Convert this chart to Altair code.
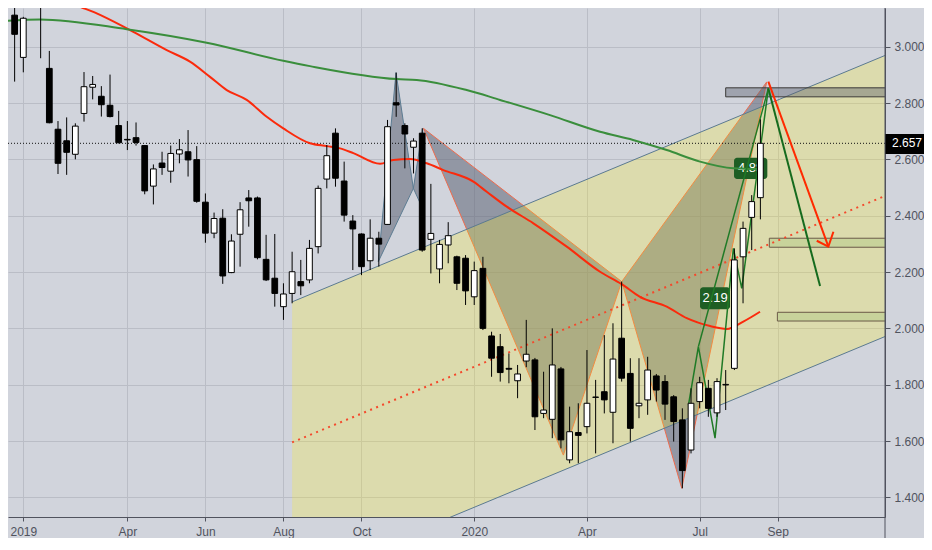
import altair as alt
import pandas as pd

# ---------------- data ----------------
# weekly candles, index 0 = week of 2018-12-31
OPEN = [3.112, 2.962, 3.200, 3.260, 2.923, 2.707, 2.666, 2.618, 2.763, 2.856,
        2.824, 2.792, 2.720, 2.671, 2.677, 2.649, 2.505, 2.587, 2.558, 2.619,
        2.627, 2.599, 2.448, 2.338, 2.391, 2.198, 2.334, 2.463, 2.463, 2.245,
        2.178, 2.077, 2.124, 2.166, 2.172, 2.290, 2.530, 2.693, 2.523, 2.381,
        2.335, 2.240, 2.320, 2.369, 2.801, 2.720, 2.643, 2.693, 2.316, 2.211,
        2.296, 2.254, 2.249, 2.112, 2.213, 1.973, 1.935, 1.858, 1.814, 1.884,
        1.888, 1.698, 1.677, 1.856, 1.533, 1.630, 1.651, 1.756, 1.775, 1.702,
        1.965, 1.840, 1.725, 1.746, 1.831, 1.811, 1.757, 1.675, 1.568, 1.740,
        1.787, 1.700, 1.799, 1.858, 2.254, 2.394, 2.464]
HIGH = [3.142, 3.106, 3.300, 3.320, 2.985, 2.736, 2.749, 2.728, 2.910, 2.896,
        2.860, 2.901, 2.772, 2.736, 2.731, 2.651, 2.582, 2.627, 2.649, 2.672,
        2.704, 2.647, 2.479, 2.411, 2.423, 2.334, 2.448, 2.491, 2.468, 2.332,
        2.335, 2.160, 2.272, 2.243, 2.314, 2.507, 2.651, 2.710, 2.592, 2.402,
        2.337, 2.387, 2.343, 2.740, 2.908, 2.728, 2.675, 2.710, 2.513, 2.314,
        2.377, 2.258, 2.260, 2.237, 2.254, 1.988, 1.980, 1.911, 1.870, 2.030,
        1.895, 1.846, 2.000, 1.863, 1.722, 1.734, 1.923, 1.817, 1.976, 2.018,
        2.166, 1.894, 1.894, 1.899, 1.838, 1.834, 1.763, 1.716, 1.787, 1.828,
        1.817, 1.823, 1.852, 2.284, 2.379, 2.473, 2.742]
LOW = [2.876, 2.909, 3.175, 2.959, 2.728, 2.548, 2.545, 2.600, 2.734, 2.813,
       2.752, 2.749, 2.657, 2.633, 2.649, 2.476, 2.440, 2.545, 2.517, 2.586,
       2.539, 2.446, 2.304, 2.320, 2.158, 2.196, 2.219, 2.361, 2.245, 2.168,
       2.077, 2.030, 2.089, 2.118, 2.160, 2.266, 2.497, 2.503, 2.379, 2.207,
       2.189, 2.207, 2.219, 2.367, 2.751, 2.568, 2.550, 2.272, 2.195, 2.160,
       2.231, 2.136, 2.083, 2.083, 1.994, 1.828, 1.811, 1.805, 1.752, 1.862,
       1.639, 1.681, 1.610, 1.574, 1.521, 1.521, 1.627, 1.556, 1.698, 1.592,
       1.811, 1.598, 1.681, 1.693, 1.740, 1.675, 1.598, 1.432, 1.556, 1.716,
       1.686, 1.686, 1.710, 1.852, 2.089, 2.278, 2.387]
CLOSE = [3.044, 3.101, 3.260, 3.190, 2.730, 2.586, 2.625, 2.718, 2.858, 2.866,
         2.794, 2.752, 2.659, 2.669, 2.660, 2.488, 2.566, 2.571, 2.621, 2.634,
         2.598, 2.451, 2.338, 2.390, 2.186, 2.310, 2.421, 2.453, 2.251, 2.172,
         2.124, 2.122, 2.201, 2.151, 2.284, 2.497, 2.613, 2.533, 2.402, 2.353,
         2.219, 2.320, 2.299, 2.716, 2.793, 2.690, 2.665, 2.278, 2.337, 2.298,
         2.329, 2.160, 2.133, 2.205, 2.000, 1.894, 1.843, 1.855, 1.838, 1.908,
         1.686, 1.710, 1.870, 1.604, 1.633, 1.620, 1.734, 1.755, 1.746, 1.891,
         1.823, 1.645, 1.734, 1.852, 1.781, 1.731, 1.669, 1.495, 1.734, 1.807,
         1.716, 1.811, 1.801, 2.243, 2.355, 2.450, 2.657]

TICK_IDX = [1, 13, 22, 31, 40, 53, 66, 79, 88]
TICK_LABELS = ["2019", "Apr", "Jun", "Aug", "Oct", "2020", "Apr", "Jul", "Sep"]
Y_TICKS = [1.4, 1.6, 1.8, 2.0, 2.2, 2.4, 2.6, 2.8, 3.0]
LAST_PRICE = 2.657
LAST_LABEL = "2.657"

MA_RED_X = [4.0, 5.81, 9.85, 13.69, 17.54, 20.22, 22.53, 24.46, 26.76, 29.07,
            30.98, 34.06, 35.99, 37.52, 39.06, 42.14, 43.67, 45.60, 47.52, 49.44,
            52.90, 54.44, 56.75, 59.82, 63.67, 67.51, 70.01, 72.12, 75.20, 77.51,
            80.20, 82.12, 84.03, 85.96]
MA_RED_Y = [3.200, 3.166, 3.113, 3.053, 2.988, 2.947, 2.893, 2.846, 2.811, 2.751,
            2.710, 2.657, 2.647, 2.639, 2.622, 2.584, 2.598, 2.601, 2.586, 2.562,
            2.521, 2.485, 2.432, 2.373, 2.290, 2.201, 2.157, 2.112, 2.077, 2.036,
            2.008, 1.998, 2.024, 2.059]
MA_GREEN_X = [-1.0, 2.93, 12.92, 22.15, 30.98, 34.06, 44.06, 46.37, 52.13, 55.98,
              61.74, 67.51, 71.31, 75.20, 79.04, 82.85, 85.96]
MA_GREEN_Y = [3.092, 3.097, 3.062, 3.014, 2.950, 2.931, 2.885, 2.882, 2.846, 2.811,
              2.757, 2.698, 2.669, 2.633, 2.592, 2.568, 2.565]

CH_X = [32, 101]
CH_UPPER = [2.094, 2.977]
CH_LOWER = [1.096, 1.979]
CH_MID = [1.595, 2.478]

SMALL_PAT_X = [41.94, 43.98, 45.98, 47.06, 47.13]
SMALL_PAT_Y = [2.237, 2.908, 2.497, 2.710, 2.420]
BIG_PAT_X = [47.15, 63.28, 70.01, 76.93, 86.73]
BIG_PAT_Y = [2.710, 1.550, 2.166, 1.432, 2.875]
GREEN_PAT_X = [77.71, 78.85, 80.77, 82.88, 83.85, 86.92]
GREEN_PAT_Y = [1.728, 1.935, 1.610, 2.284, 2.142, 2.852]

RED_ARROW_X = [86.92, 93.84]
RED_ARROW_Y = [2.876, 2.290]
RED_HEAD_X = [92.50, 93.84, 94.42]
RED_HEAD_Y = [2.311, 2.290, 2.343]
GREEN_ARROW_X = [86.92, 92.88]
GREEN_ARROW_Y = [2.852, 2.150]

ZONE_X1 = [82.0, 87.03, 87.96]
ZONE_X2 = [101, 101, 101]
ZONE_TOP = [2.854, 2.320, 2.057]
ZONE_BOT = [2.822, 2.288, 2.026]
ZONE_KIND = ["gray", "green", "green"]

LABEL_TEXT = ["2.19", "4.88"]
LABEL_X1 = [79.04, 82.96]
LABEL_X2 = [82.50, 86.80]
LABEL_Y1 = [2.068, 2.530]
LABEL_Y2 = [2.146, 2.606]

# ---------------- styling / scales ----------------
X_LEFT, X_RIGHT = -0.7646, 100.37
Y_BOTTOM, Y_TOP = 1.3302, 3.1374
W, H = 877, 509
PAD_R, PAD_B = 39, 21
BG = "#d1d4dc"
GRID = "#babdc6"
AXC = "#50535e"
FONT = "Liberation Sans"

XS = alt.Scale(domain=[X_LEFT, X_RIGHT], nice=False, zero=False)
YS = alt.Scale(domain=[Y_BOTTOM, Y_TOP], nice=False, zero=False)
expr = " : ".join(f"datum.value == {i} ? '{l}'" for i, l in zip(TICK_IDX, TICK_LABELS)) + " : ''"
XAX = alt.Axis(values=TICK_IDX, labelExpr=expr, title=None, grid=True, gridColor=GRID,
               domainColor=AXC, tickColor=AXC, tickSize=4, labelColor=AXC, labelFont=FONT,
               labelFontSize=12, labelPadding=14, labelBaseline="alphabetic",
               labelFlush=False, labelOverlap=False)
YAX = alt.Axis(orient="right", values=Y_TICKS, format=".3f", title=None, grid=True,
               gridColor=GRID, domainColor=AXC, tickColor=AXC, tickSize=5, labelColor=AXC,
               labelFont=FONT, labelFontSize=12, labelPadding=4, labelFlush=False,
               labelOverlap=False)


def ex(f):
    return alt.X(f, type="quantitative", scale=XS, axis=XAX)


def ey(f):
    return alt.Y(f, type="quantitative", scale=YS, axis=YAX)


def tri_rows(px, py, name):
    pts = sorted(zip(px, py))
    (x0, y0), _, (x2, y2) = pts
    rows = []
    for x, y in pts:
        t = (x - x0) / (x2 - x0)
        rows.append({"x": x, "y": y, "y2": y0 + t * (y2 - y0), "g": name})
    return rows


def pattern_edges(px, py, name):
    rows = []
    for j in range(5):
        rows.append({"x": px[j], "y": py[j], "g": name + "p", "k": j})
    for a, b, tag in [(0, 2, "xb"), (2, 4, "bd")]:
        rows.append({"x": px[a], "y": py[a], "g": name + tag, "k": 0})
        rows.append({"x": px[b], "y": py[b], "g": name + tag, "k": 1})
    return pd.DataFrame(rows)


fill_rows = []
for px, py, nm in [(SMALL_PAT_X, SMALL_PAT_Y, "s"), (BIG_PAT_X, BIG_PAT_Y, "b")]:
    fill_rows += tri_rows(px[0:3], py[0:3], nm + "1")
    fill_rows += tri_rows(px[2:5], py[2:5], nm + "2")
pat_fill = alt.Chart(pd.DataFrame(fill_rows)).mark_area(
    clip=True, color="#5f6476", opacity=0.55).encode(
    x=ex("x"), y=ey("y"), y2="y2", detail="g:N")

small_edges = alt.Chart(pattern_edges(SMALL_PAT_X, SMALL_PAT_Y, "s")).mark_line(
    clip=True, color="#5c7c92", strokeWidth=1).encode(
    x=ex("x"), y=ey("y"), detail="g:N", order="k:Q")
big_edges = alt.Chart(pattern_edges(BIG_PAT_X, BIG_PAT_Y, "b")).mark_line(
    clip=True, color="#ee6b4d", strokeWidth=1).encode(
    x=ex("x"), y=ey("y"), detail="g:N", order="k:Q")

ch_df = pd.DataFrame({"x": CH_X, "y": CH_UPPER, "y2": CH_LOWER})
channel = alt.Chart(ch_df).mark_area(clip=True, color="#ffee1e", opacity=0.25).encode(
    x=ex("x"), y=ey("y"), y2="y2")
chl_df = pd.DataFrame({"x": CH_X + CH_X, "y": CH_UPPER + CH_LOWER,
                       "g": ["u", "u", "l", "l"]})
ch_lines = alt.Chart(chl_df).mark_line(clip=True, color="#5b7a90", strokeWidth=1).encode(
    x=ex("x"), y=ey("y"), detail="g:N")

zones = pd.DataFrame({"x": ZONE_X1, "x2": ZONE_X2, "y": ZONE_TOP, "y2": ZONE_BOT,
                      "kind": ZONE_KIND})
zone_gray = alt.Chart(zones).transform_filter("datum.kind == 'gray'").mark_rect(
    clip=True, fill="#5a5f6e", fillOpacity=0.42, stroke="#3c3a38", strokeWidth=1).encode(
    x=ex("x"), x2="x2", y=ey("y"), y2="y2")
zone_green = alt.Chart(zones).transform_filter("datum.kind == 'green'").mark_rect(
    clip=True, fill="#c8d39b", stroke="#6b5a48", strokeWidth=1).encode(
    x=ex("x"), x2="x2", y=ey("y"), y2="y2")

mid = alt.Chart(pd.DataFrame({"x": CH_X, "y": CH_MID})).mark_line(
    clip=True, color="#f4492c", strokeWidth=2, strokeDash=[2, 4.5]).encode(
    x=ex("x"), y=ey("y"))

last_line = alt.Chart(pd.DataFrame({"y": [LAST_PRICE]})).mark_rule(
    clip=True, color="#111111", strokeWidth=1, strokeDash=[1, 2]).encode(y=ey("y"))

lbl = pd.DataFrame({"t": LABEL_TEXT, "x": LABEL_X1, "x2": LABEL_X2,
                    "y": LABEL_Y1, "y2": LABEL_Y2})
lbl["xc"] = (lbl.x + lbl.x2) / 2
lbl["yc"] = (lbl.y + lbl.y2) / 2
lbl_box = alt.Chart(lbl).mark_rect(clip=True, fill="#1e5e24", cornerRadius=3).encode(
    x=ex("x"), x2="x2", y=ey("y"), y2="y2")
lbl_txt = alt.Chart(lbl).mark_text(clip=True, color="white", font=FONT, fontSize=13,
                                   align="center", baseline="middle").encode(
    x=ex("xc"), y=ey("yc"), text="t:N")

ma_red = alt.Chart(pd.DataFrame({"x": MA_RED_X, "y": MA_RED_Y})).mark_line(
    clip=True, color="#fb2a0c", strokeWidth=2, interpolate="monotone").encode(
    x=ex("x"), y=ey("y"))
ma_green = alt.Chart(pd.DataFrame({"x": MA_GREEN_X, "y": MA_GREEN_Y})).mark_line(
    clip=True, color="#3a8e3c", strokeWidth=2, interpolate="monotone").encode(
    x=ex("x"), y=ey("y"))

gp_rows = [{"x": x, "y": y, "g": "z", "k": k}
           for k, (x, y) in enumerate(zip(GREEN_PAT_X, GREEN_PAT_Y))]
gp_rows += [{"x": GREEN_PAT_X[1], "y": GREEN_PAT_Y[1], "g": "ad", "k": 0},
            {"x": GREEN_PAT_X[5], "y": GREEN_PAT_Y[5], "g": "ad", "k": 1}]
green_pat = alt.Chart(pd.DataFrame(gp_rows)).mark_line(
    clip=True, color="#1f7a26", strokeWidth=1.5).encode(
    x=ex("x"), y=ey("y"), detail="g:N", order="k:Q")

cd = pd.DataFrame({"i": list(range(len(OPEN))), "o": OPEN, "h": HIGH, "l": LOW, "c": CLOSE})
cd["x1"] = cd.i - 0.33
cd["x2"] = cd.i + 0.33
wicks = alt.Chart(cd).mark_rule(clip=True, color="#000000", strokeWidth=1).encode(
    x=ex("i"), y=ey("l"), y2="h")
bodies = alt.Chart(cd).mark_rect(clip=True, stroke="#000000", strokeWidth=1).encode(
    x=ex("x1"), x2="x2", y=ey("o"), y2="c",
    fill=alt.condition("datum.c >= datum.o", alt.value("#ffffff"), alt.value("#000000")))

red_arrow = alt.Chart(pd.DataFrame({"x": RED_ARROW_X, "y": RED_ARROW_Y, "k": [0, 1]})).mark_line(
    clip=True, color="#ff2a00", strokeWidth=2).encode(x=ex("x"), y=ey("y"), order="k:Q")
red_head = alt.Chart(pd.DataFrame({"x": RED_HEAD_X, "y": RED_HEAD_Y, "k": [0, 1, 2]})).mark_line(
    clip=True, color="#ff2a00", strokeWidth=2).encode(x=ex("x"), y=ey("y"), order="k:Q")
green_arrow = alt.Chart(pd.DataFrame({"x": GREEN_ARROW_X, "y": GREEN_ARROW_Y, "k": [0, 1]})).mark_line(
    clip=True, color="#166b1e", strokeWidth=2).encode(x=ex("x"), y=ey("y"), order="k:Q")

tag = pd.DataFrame({"y": [LAST_PRICE + 0.033], "y2": [LAST_PRICE - 0.038],
                    "yc": [LAST_PRICE], "t": [LAST_LABEL]})
tag_box = alt.Chart(tag).mark_rect(fill="#000000").encode(
    x=alt.value(W), x2=alt.value(W + PAD_R), y=ey("y"), y2="y2")
tag_txt = alt.Chart(tag).mark_text(color="white", font=FONT, fontSize=12, align="left",
                                   baseline="middle").encode(
    x=alt.value(W + 7), y=ey("yc"), text="t:N")

axis_ext = alt.Chart(pd.DataFrame({"a": [0]})).mark_rule(color=AXC, strokeWidth=1).encode(
    x=alt.value(W), y=alt.value(0), y2=alt.value(H + PAD_B))

chart = alt.layer(
    pat_fill, small_edges, big_edges, channel, ch_lines, zone_gray, zone_green, mid,
    last_line, lbl_box, lbl_txt, ma_red, ma_green, green_pat, wicks, bodies,
    red_arrow, red_head, green_arrow, tag_box, tag_txt, axis_ext
).properties(
    width=W, height=H,
    autosize=alt.AutoSizeParams(type="none"),
    padding={"left": 0, "top": 0, "right": PAD_R, "bottom": PAD_B},
    background=BG,
).configure_view(stroke=None)

chart.save("out.html", embed_options={"renderer": "svg", "actions": False})
